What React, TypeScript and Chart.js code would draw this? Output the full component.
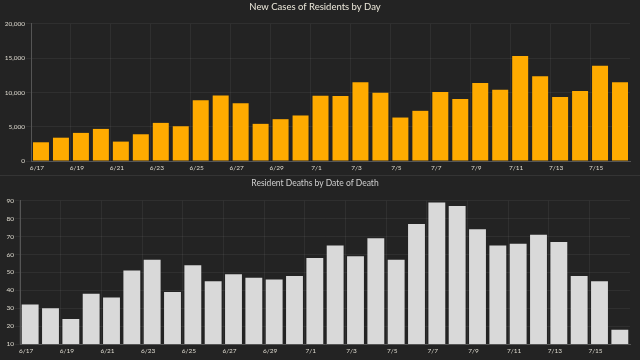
import React, { useEffect, useRef } from "react";
import { Chart, registerables } from "chart.js";

Chart.register(...registerables);

const dates = [
  "6/17", "6/18", "6/19", "6/20", "6/21", "6/22", "6/23", "6/24", "6/25", "6/26",
  "6/27", "6/28", "6/29", "6/30", "7/1", "7/2", "7/3", "7/4", "7/5", "7/6",
  "7/7", "7/8", "7/9", "7/10", "7/11", "7/12", "7/13", "7/14", "7/15", "7/16",
];

const newCases = [
  2730, 3400, 4100, 4680, 2830, 3900, 5560, 5070, 8880, 9560,
  8440, 5420, 6100, 6640, 9520, 9470, 11470, 9950, 6340, 7320,
  10050, 9030, 11370, 10390, 15320, 12350, 9320, 10200, 13910, 11470,
];

const deaths = [
  32, 30, 24, 38, 36, 51, 57, 39, 54, 45,
  49, 47, 46, 48, 58, 65, 59, 69, 57, 77,
  89, 87, 74, 65, 66, 71, 67, 48, 45, 18,
];

const casesTitle = "New Cases of Residents by Day";
const deathsTitle = "Resident Deaths by Date of Death";

const BG = "#232323";
const GRID = "rgba(255,255,255,0.055)";
const AXIS = "#555555";
const TICK = "#dedbd0";
const FONT = "Lato, 'Open Sans', sans-serif";

function makeConfig(opts: {
  data: number[];
  color: string;
  title: string;
  titleSize: number;
  titleColor: string;
  titlePadTop: number;
  titlePadBottom: number;
  yWidth: number;
  xHeight: number;
  yMin: number;
  yMax: number;
  yStep: number;
  barPct: number;
}) {
  return {
    type: "bar" as const,
    data: {
      labels: dates,
      datasets: [
        {
          data: opts.data,
          backgroundColor: opts.color,
          borderWidth: 0,
          categoryPercentage: 1,
          barPercentage: opts.barPct,
        },
      ],
    },
    options: {
      responsive: false,
      animation: false as const,
      layout: { padding: { left: 0, right: 10, top: 0, bottom: 0 } },
      plugins: {
        legend: { display: false },
        tooltip: { enabled: false },
        title: {
          display: true,
          text: opts.title,
          color: opts.titleColor,
          font: { family: FONT, size: opts.titleSize, weight: "normal" as const },
          padding: { top: opts.titlePadTop, bottom: opts.titlePadBottom },
        },
      },
      scales: {
        x: {
          offset: true,
          grid: {
            offset: true,
            drawTicks: false,
            color: (ctx: any) => (ctx.index % 2 === 0 ? GRID : "rgba(0,0,0,0)"),
          },
          border: { color: AXIS, width: 1 },
          ticks: {
            autoSkip: false,
            maxRotation: 0,
            minRotation: 0,
            padding: 3,
            labelOffset: -4,
            color: TICK,
            font: { family: FONT, size: 6.5 },
            callback: (_v: any, i: number) => (i % 2 === 0 ? dates[i] : ""),
          },
          afterFit: (scale: any) => {
            scale.height = opts.xHeight;
          },
        },
        y: {
          min: opts.yMin,
          max: opts.yMax,
          grid: { color: GRID, tickLength: 5 },
          border: { color: AXIS, width: 1 },
          ticks: {
            stepSize: opts.yStep,
            padding: 1,
            color: TICK,
            font: { family: FONT, size: 6.5 },
          },
          afterFit: (scale: any) => {
            scale.width = opts.yWidth;
          },
        },
      },
    },
  };
}

function BarPanel(props: { height: number; config: any }) {
  const ref = useRef<HTMLCanvasElement | null>(null);
  useEffect(() => {
    if (!ref.current) return;
    const chart = new Chart(ref.current, props.config);
    return () => chart.destroy();
  }, []);
  return (
    <canvas
      ref={ref}
      width={640}
      height={props.height}
      style={{ display: "block", width: 640, height: props.height }}
    />
  );
}

export default function App() {
  const topConfig = makeConfig({
    data: newCases,
    color: "#ffab00",
    title: casesTitle,
    titleSize: 9.5,
    titleColor: "#ece8da",
    titlePadTop: 1.5,
    titlePadBottom: 11,
    yWidth: 31,
    xHeight: 14,
    yMin: 0,
    yMax: 20000,
    yStep: 5000,
    barPct: 0.8,
  });
  const bottomConfig = makeConfig({
    data: deaths,
    color: "#d9d9d9",
    title: deathsTitle,
    titleSize: 8.5,
    titleColor: "#cfcfcf",
    titlePadTop: 2,
    titlePadBottom: 12.5,
    yWidth: 20,
    xHeight: 16,
    yMin: 10,
    yMax: 90,
    yStep: 10,
    barPct: 0.83,
  });
  return (
    <div
      style={{
        position: "fixed",
        left: 0,
        top: 0,
        width: 640,
        height: 360,
        background: BG,
        overflow: "hidden",
      }}
    >
      <BarPanel height={175} config={topConfig} />
      <div style={{ height: 1, background: "#343434" }} />
      <BarPanel height={184} config={bottomConfig} />
    </div>
  );
}
